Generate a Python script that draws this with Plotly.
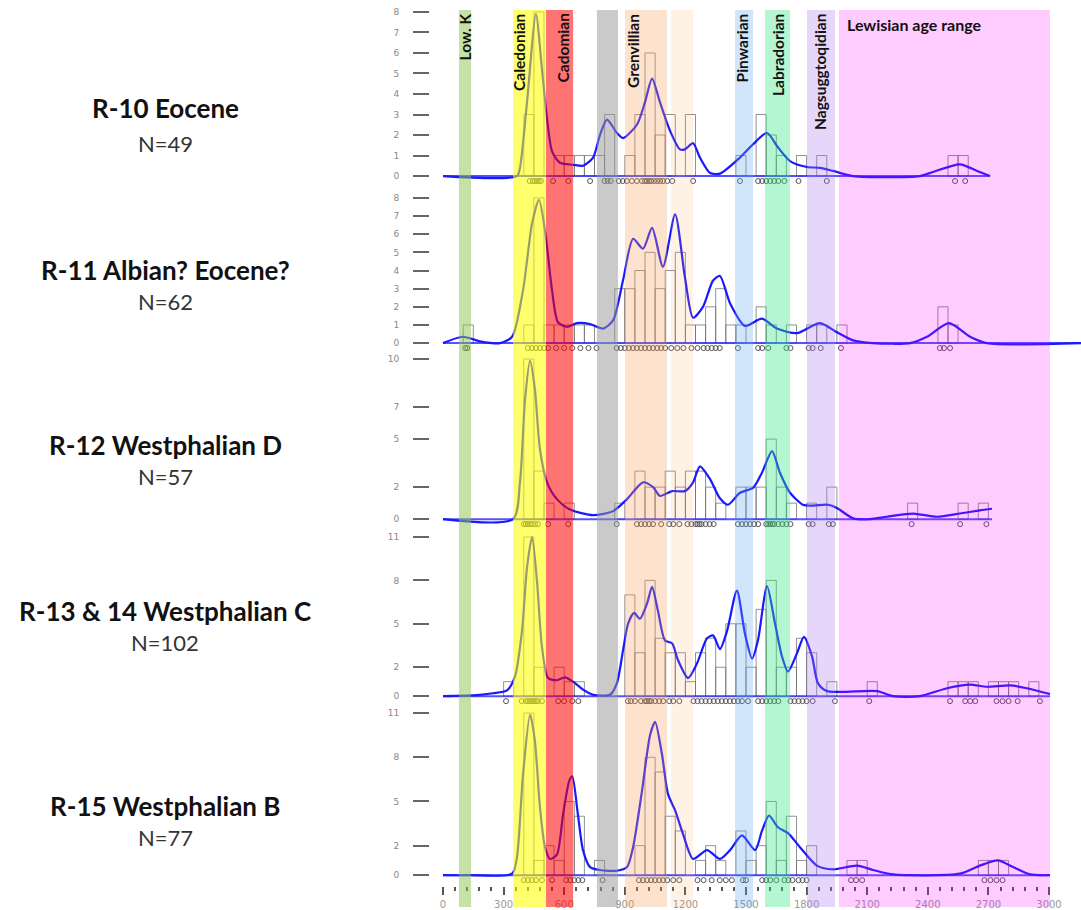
import plotly.graph_objects as go

W, H = 1081, 910

# ======================= DATA =======================
titles = ["R-10 Eocene", "R-11 Albian? Eocene?", "R-12 Westphalian D",
          "R-13 & 14 Westphalian C", "R-15 Westphalian B"]
n_labels = ["N=49", "N=62", "N=57", "N=102", "N=77"]

# age bands (Ma)
band_names = ["Low. K", "Caledonian", "Cadomian", "", "Grenvillian", "",
              "Pinwarian", "Labradorian", "Nagsuggtoqidian", "Lewisian age range"]
band_start = [79, 347, 510, 762, 901, 1129, 1446, 1594, 1802, 1960]
band_end = [139, 510, 644, 866, 1109, 1238, 1535, 1718, 1941, 3005]

x_tick_labels = [0, 300, 600, 900, 1200, 1500, 1800, 2100, 2400, 2700, 3000]

bin_width = 50

# ---- R-10 Eocene ----
r10_bins = [400, 450, 550, 600, 650, 700, 750, 800, 900, 950, 1000, 1050, 1100, 1200,
            1450, 1550, 1600, 1650, 1750, 1850, 2500, 2550]
r10_counts = [3, 8, 1, 1, 1, 1, 1, 3, 1, 3, 6, 2, 3, 3, 1, 3, 2, 1, 1, 1, 1, 1]
r10_kde_age = [0, 366, 381, 416, 460, 490, 515, 540, 579, 644, 693, 743, 777, 812, 861, 891,
               960, 1000, 1035, 1074, 1124, 1173, 1198, 1238, 1272, 1322, 1371, 1470, 1535,
               1604, 1658, 1718, 1802, 1866, 1931, 2030, 2361, 2426, 2559, 2644, 2708]
r10_kde_val = [0, 0, 0.4, 3.6, 7.9, 5.2, 2.8, 1.2, 0.65, 0.55, 0.5, 0.9, 2.0, 2.75, 2.1, 1.85,
               2.5, 3.6, 4.75, 3.6, 2.2, 1.3, 1.3, 1.6, 0.9, 0.15, 0.12, 0.9, 1.55,
               2.1, 1.4, 0.73, 0.44, 0.4, 0.25, 0, 0, 0.2, 0.57, 0.25, 0]
r10_ages = [430, 445, 455, 465, 475, 485, 545, 620, 728, 800, 815, 830, 870, 890, 910, 935,
            960, 985, 1000, 1010, 1020, 1030, 1045, 1060, 1075, 1090, 1110, 1135, 1238,
            1470, 1560, 1580, 1600, 1620, 1640, 1660, 1690, 1760, 1900, 2535, 2585]
r10_yticks = [0, 1, 2, 3, 4, 5, 6, 7, 8]

# ---- R-11 Albian? Eocene? ----
r11_bins = [100, 400, 450, 500, 550, 600, 650, 700, 850, 900, 950, 1000, 1050, 1100, 1150,
            1200, 1250, 1300, 1350, 1400, 1450, 1550, 1600, 1700, 1800, 1850, 1950, 2450, 2500]
r11_counts = [1, 1, 8, 1, 1, 1, 1, 1, 3, 3, 4, 5, 3, 4, 5,
              1, 1, 2, 3, 1, 1, 2, 1, 1, 1, 1, 1, 2, 1]
r11_kde_age = [0, 99, 183, 282, 342, 396, 441, 475, 505, 540, 569, 614, 663, 728, 792, 842,
               891, 941, 990, 1035, 1089, 1149, 1198, 1238, 1287, 1337, 1371, 1421, 1495,
               1579, 1653, 1752, 1866, 1950, 2030, 2129, 2312, 2396, 2505, 2609, 2693, 3158]
r11_kde_val = [0, 0.35, 0.1, 0, 0.35, 2.9, 6.6, 7.9, 6.2, 2.9, 1.15, 0.9, 1.1, 1.05, 0.8, 1.25,
               3.45, 5.75, 5.2, 6.35, 4.2, 7.1, 3.6, 1.4, 2.0, 3.45, 3.7, 2.2, 0.95,
               1.35, 0.8, 0.55, 1.1, 0.6, 0.15, 0, 0, 0.35, 1.1, 0.35, 0, 0]
r11_ages = [110, 120, 420, 440, 460, 480, 500, 520, 560, 600, 640, 680, 720, 760, 860, 880,
            900, 920, 940, 960, 980, 1000, 1020, 1040, 1060, 1080, 1100, 1130, 1160, 1190,
            1230, 1260, 1290, 1310, 1330, 1350, 1370, 1460, 1560, 1580, 1610, 1700, 1720,
            1810, 1830, 1870, 1970, 2460, 2480, 2510]
r11_yticks = [0, 1, 2, 3, 4, 5, 6, 7, 8]

# ---- R-12 Westphalian D ----
r12_bins = [400, 450, 500, 600, 850, 950, 1000, 1050, 1100, 1150, 1200, 1250, 1300, 1350,
            1450, 1500, 1550, 1600, 1650, 1700, 1800, 1900, 2300, 2550, 2650]
r12_counts = [10, 3, 1, 1, 1, 3, 2, 2, 3, 2, 3, 3, 2, 1,
              2, 2, 2, 5, 2, 1, 1, 2, 1, 1, 1]
r12_kde_age = [0, 347, 381, 406, 431, 455, 480, 515, 564, 629, 743, 842, 911, 990, 1040, 1074,
               1134, 1198, 1238, 1272, 1322, 1371, 1411, 1470, 1535, 1579, 1629, 1668, 1718,
               1782, 1832, 1906, 1950, 2030, 2114, 2198, 2327, 2446, 2559, 2658, 2718]
r12_kde_val = [0, 0, 2.3, 7.45, 9.9, 8.1, 4.35, 2.3, 1.25, 0.6, 0.25, 0.5, 1.25, 2.3, 2.0, 1.45,
               1.75, 1.75, 2.3, 3.3, 2.5, 1.3, 0.9, 1.65, 1.95, 2.9, 4.25, 2.9, 1.65,
               0.9, 0.85, 0.9, 0.7, 0.05, 0, 0.15, 0.35, 0.15, 0.35, 0.55, 0.65]
r12_ages = [400, 410, 420, 430, 440, 455, 470, 520, 620, 860, 960, 980, 1000, 1020, 1040,
            1080, 1120, 1140, 1170, 1210, 1230, 1250, 1260, 1270, 1280, 1300, 1320, 1340,
            1460, 1480, 1500, 1520, 1540, 1560, 1600, 1610, 1620, 1630, 1640, 1660, 1680,
            1700, 1720, 1810, 1830, 1910, 1930, 2320, 2560, 2690]
r12_yticks = [0, 2, 5, 7, 10]

# ---- R-13 & 14 Westphalian C ----
r13_bins = [300, 400, 450, 550, 600, 650, 900, 950, 1000, 1050, 1100, 1150, 1200, 1250, 1300,
            1350, 1400, 1450, 1500, 1550, 1600, 1650, 1700, 1750, 1800, 1900, 2100, 2500,
            2550, 2600, 2700, 2750, 2800, 2900]
r13_counts = [1, 11, 2, 2, 1, 1, 7, 3, 8, 4, 3, 3, 1, 3, 4,
              2, 5, 5, 2, 6, 8, 2, 2, 4, 3, 1, 1, 1,
              1, 1, 1, 1, 1, 1]
r13_kde_age = [0, 168, 248, 317, 356, 391, 416, 441, 465, 490, 520, 564, 604, 644, 693, 743,
               827, 861, 891, 916, 946, 975, 1010, 1035, 1064, 1099, 1134, 1163, 1213, 1257,
               1307, 1337, 1371, 1406, 1455, 1495, 1530, 1559, 1604, 1644, 1678, 1708, 1752,
               1787, 1827, 1856, 1901, 2149, 2228, 2361, 2495, 2609, 2693, 2807, 2891, 3005]
r13_kde_val = [0, 0.07, 0.2, 0.4, 1.35, 4.5, 8.9, 11, 8, 3.4, 1.25, 1.1, 1.3, 1.0, 0.45, 0.1,
               0.1, 0.9, 3.15, 5.0, 5.75, 5.35, 6.4, 7.55, 5.9, 3.85, 3.65, 2.5, 1.25, 2.25,
               4.0, 4.2, 3.25, 4.5, 7.3, 4.3, 2.6, 3.85, 7.6, 5.0, 2.75, 1.7, 2.95,
               4.1, 2.75, 0.9, 0.35, 0.35, 0, 0, 0.55, 0.8, 0.65, 0.75, 0.55, 0.15]
r13_ages = [312, 390, 410, 420, 430, 440, 450, 460, 470, 490, 570, 600, 640, 670, 915, 930,
            950, 980, 1000, 1010, 1020, 1030, 1050, 1070, 1090, 1120, 1140, 1170, 1240, 1260,
            1280, 1300, 1320, 1340, 1360, 1380, 1400, 1420, 1440, 1460, 1480, 1510, 1560,
            1580, 1600, 1620, 1640, 1660, 1720, 1740, 1760, 1780, 1800, 1830, 1940, 2110,
            2510, 2585, 2610, 2635, 2740, 2770, 2800, 2845, 2955]
r13_yticks = [0, 2, 5, 8, 11]

# ---- R-15 Westphalian B ----
r15_bins = [400, 450, 500, 550, 600, 650, 750, 950, 1000, 1050, 1100, 1150, 1250, 1300, 1350,
            1450, 1500, 1550, 1600, 1650, 1700, 1750, 1800, 2000, 2050, 2650, 2700, 2750]
r15_counts = [11, 1, 2, 1, 5, 4, 1, 2, 8, 7, 4, 3, 1, 2, 1,
              3, 1, 2, 5, 1, 4, 1, 2, 1, 1, 1, 1, 1]
r15_kde_age = [0, 134, 342, 366, 396, 431, 455, 480, 505, 530, 564, 594, 625, 640, 668, 693,
               728, 777, 861, 911, 941, 985, 1025, 1050, 1084, 1114, 1149, 1188, 1238, 1307,
               1371, 1421, 1480, 1545, 1579, 1614, 1658, 1708, 1767, 1851, 1931, 2050, 2129,
               2228, 2559, 2658, 2748, 2822, 2906, 3005]
r15_kde_val = [0, 0, 0.1, 1.2, 6.8, 10.9, 9.1, 4.6, 1.9, 1.1, 1.4, 4.1, 6.4, 6.7, 4.1, 1.7,
               0.55, 0.35, 0.3, 0.55, 1.9, 5.7, 9.5, 10.4, 8.2, 5.5, 4.4, 2.8, 1.1, 1.7,
               1.1, 1.7, 2.7, 1.7, 3.0, 4.05, 3.25, 2.85, 1.9, 0.65, 0.4, 0.65, 0.35,
               0.05, 0.1, 0.65, 1.0, 0.55, 0.05, 0]
r15_ages = [400, 420, 440, 460, 490, 540, 610, 630, 650, 670, 690, 790, 970, 990, 1010, 1030,
            1050, 1070, 1090, 1110, 1140, 1170, 1260, 1290, 1330, 1370, 1400, 1430, 1485, 1500,
            1580, 1600, 1620, 1650, 1690, 1710, 1730, 1760, 1780, 1800, 2020, 2045, 2075,
            2680, 2710, 2740, 2770]
r15_yticks = [0, 2, 5, 8, 11]

samples = [
    (r10_bins, r10_counts, r10_kde_age, r10_kde_val, r10_ages, r10_yticks),
    (r11_bins, r11_counts, r11_kde_age, r11_kde_val, r11_ages, r11_yticks),
    (r12_bins, r12_counts, r12_kde_age, r12_kde_val, r12_ages, r12_yticks),
    (r13_bins, r13_counts, r13_kde_age, r13_kde_val, r13_ages, r13_yticks),
    (r15_bins, r15_counts, r15_kde_age, r15_kde_val, r15_ages, r15_yticks),
]

# ======================= LAYOUT GEOMETRY (pixels) =======================
# (domain top px, domain bottom px, px of value 0, px per unit)
panel_geom = [(4, 190, 175, 20.625), (190, 356, 343, 18.25), (356, 531, 520, 16.1),
              (531, 710, 698, 14.55), (710, 889, 878, 14.82)]
title_y = [(107, 142), (269, 301), (445, 477), (612, 644), (808, 840)]

band_colors = ["rgba(140,195,75,0.5)", "rgba(255,255,0,0.57)", "rgba(255,0,0,0.55)",
               "rgba(150,150,150,0.5)", "rgba(247,160,90,0.3)", "rgba(247,160,90,0.15)",
               "rgba(100,170,240,0.3)", "rgba(50,230,130,0.37)", "rgba(170,120,240,0.3)",
               "rgba(255,0,255,0.2)"]
band_label_pos = [465, 519.5, 563, None, 633, None, 742, 778, 820, 914]

px_left, px_right = 440, 1081
px0, px_per_ma = 443.0, 0.202
x_range = [(px_left - px0) / px_per_ma, (px_right - px0) / px_per_ma]

fig = go.Figure()
CURVE = "rgb(25,25,255)"

for i, (bins, counts, kage, kval, ages, yt) in enumerate(samples):
    ya = "y" if i == 0 else f"y{i+1}"
    top, bot, zero, ppu = panel_geom[i]
    fig.add_trace(go.Bar(
        x=[b + bin_width / 2 for b in bins], y=counts, width=bin_width,
        xaxis="x", yaxis=ya, showlegend=False, hoverinfo="skip",
        marker=dict(color="rgba(255,255,255,0)",
                    line=dict(color="rgba(110,110,110,0.75)", width=1))))
    fig.add_trace(go.Scatter(
        x=[min(kage), max(kage)], y=[0, 0], mode="lines", xaxis="x", yaxis=ya,
        showlegend=False, line=dict(color="rgba(40,40,255,0.8)", width=2)))
    fig.add_trace(go.Scatter(
        x=kage, y=kval, mode="lines", xaxis="x", yaxis=ya, showlegend=False,
        line=dict(color=CURVE, width=2.2, shape="spline", smoothing=0.7)))
    fig.add_trace(go.Scatter(
        x=ages, y=[-5.0 / ppu] * len(ages), mode="markers", xaxis="x", yaxis=ya,
        showlegend=False, cliponaxis=False,
        marker=dict(symbol="circle-open", size=5, color="#555", line=dict(width=1))))

    key = "yaxis" if i == 0 else f"yaxis{i+1}"
    fig.layout[key] = dict(
        domain=[1 - bot / H, 1 - top / H],
        range=[(zero - bot) / ppu, (zero - top) / ppu],
        anchor="free", position=429 / W, side="left",
        showline=False, showgrid=False, zeroline=False,
        tickmode="array", tickvals=yt, ticktext=[str(v) for v in yt],
        ticks="outside", ticklen=16, tickwidth=1.5, tickcolor="#666",
        ticklabelstandoff=12,
        tickfont=dict(family="DejaVu Sans", size=9, color="#888"))

    fig.add_annotation(xref="paper", yref="paper", x=165 / W, y=1 - title_y[i][0] / H,
                       text=titles[i], showarrow=False, xanchor="center", yanchor="middle",
                       font=dict(family="Lato", size=26, color="#111", weight="bold"))
    fig.add_annotation(xref="paper", yref="paper", x=165 / W, y=1 - title_y[i][1] / H,
                       text=n_labels[i], showarrow=False, xanchor="center", yanchor="middle",
                       font=dict(family="Lato", size=22, color="#333"))

# bands
for b0, b1, col in zip(band_start, band_end, band_colors):
    fig.add_shape(type="rect", xref="x", yref="paper", x0=b0, x1=b1,
                  y0=0, y1=1 - 8 / H, fillcolor=col, line=dict(width=0), layer="above")

# band labels
for name, xp in zip(band_names, band_label_pos):
    if not name:
        continue
    if name.startswith("Lewisian"):
        fig.add_annotation(xref="paper", yref="paper", x=xp / W, y=1 - 23 / H, text=name,
                           showarrow=False, xanchor="center", yanchor="middle",
                           font=dict(family="Lato", size=16, color="#111", weight="bold"))
    else:
        fig.add_annotation(xref="paper", yref="paper", x=xp / W, y=1 - 10 / H, text=name,
                           textangle=-90, showarrow=False, xanchor="center", yanchor="top",
                           font=dict(family="Lato", size=15.5, color="#111", weight="bold"))

minor_vals = [v for v in range(60, 3000, 60) if v % 300 != 0]
fig.update_layout(
    width=W, height=H, margin=dict(l=0, r=0, t=0, b=0),
    paper_bgcolor="white", plot_bgcolor="rgba(0,0,0,0)",
    barmode="overlay", showlegend=False,
    xaxis=dict(domain=[px_left / W, 1], range=x_range, anchor="free",
               position=1 - 889 / H, side="bottom",
               showline=False, showgrid=False, zeroline=False,
               tickmode="array", tickvals=x_tick_labels,
               ticktext=[str(v) for v in x_tick_labels],
               ticks="outside", ticklen=8, tickwidth=1.5, tickcolor="#555",
               ticklabelstandoff=1,
               tickfont=dict(family="DejaVu Sans", size=10, color="#999"),
               minor=dict(tickmode="array", tickvals=minor_vals, ticks="outside",
                          ticklen=4, tickwidth=1.5, tickcolor="#555")),
)

fig.write_html("out.html")
